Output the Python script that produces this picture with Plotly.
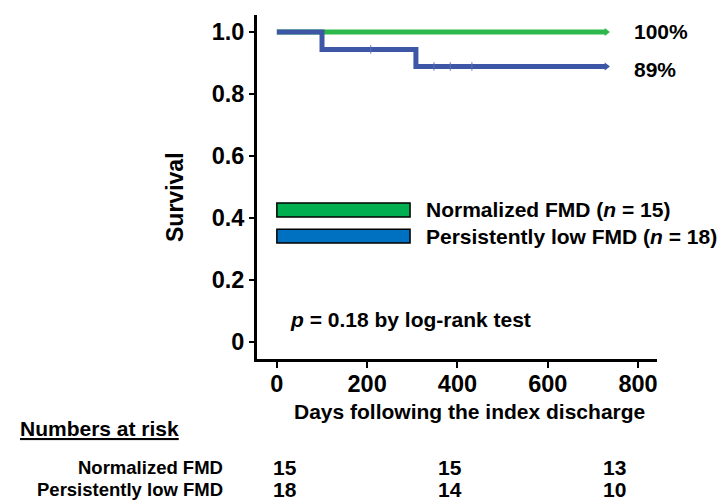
import plotly.graph_objects as go

# ---- data ----
groups = ["Normalized FMD", "Persistently low FMD"]
group_n = [15, 18]
green_days = [0, 730]
green_surv = [1.0, 1.0]
blue_days = [0, 100, 308, 730]
blue_surv = [1.0, 0.944, 0.889, 0.889]
blue_censor_days = [208, 348, 384, 432]
blue_censor_surv = [0.944, 0.889, 0.889, 0.889]
final_labels = ["100%", "89%"]
risk_days = [0, 365, 730]
risk_normalized = [15, 15, 13]
risk_low = [18, 14, 10]
x_ticks = [0, 200, 400, 600, 800]
y_ticks = [0, 0.2, 0.4, 0.6, 0.8, 1.0]
y_ticklabels = ["0", "0.2", "0.4", "0.6", "0.8", "1.0"]

GREEN_LINE = "#2db84b"
BLUE_LINE = "#3d56a6"
GREEN_FILL = "#00b050"
BLUE_FILL = "#0070c0"
FONT = "Liberation Sans, Arial, sans-serif"

fig = go.Figure()

fig.add_trace(go.Scatter(
    x=green_days, y=green_surv, mode="lines", line=dict(color=GREEN_LINE, width=5),
    line_shape="hv", showlegend=False, hoverinfo="skip"))
fig.add_trace(go.Scatter(
    x=blue_days, y=blue_surv, mode="lines", line=dict(color=BLUE_LINE, width=5),
    line_shape="hv", showlegend=False, hoverinfo="skip"))
# censor marks
fig.add_trace(go.Scatter(
    x=blue_censor_days, y=blue_censor_surv, mode="markers",
    marker=dict(symbol="line-ns", size=6, line=dict(color="#5a6fb5", width=1)),
    showlegend=False, hoverinfo="skip"))
# arrow ends
fig.add_trace(go.Scatter(
    x=[green_days[-1], blue_days[-1]], y=[green_surv[-1], blue_surv[-1]], mode="markers",
    marker=dict(symbol="triangle-right", size=7, color=[GREEN_LINE, BLUE_LINE]),
    showlegend=False, hoverinfo="skip"))

# legend boxes
fig.add_shape(type="rect", xref="x", yref="y", x0=0, x1=295, y0=0.403, y1=0.448,
              fillcolor=GREEN_FILL, line=dict(color="black", width=1.5))
fig.add_shape(type="rect", xref="x", yref="y", x0=0, x1=295, y0=0.319, y1=0.364,
              fillcolor=BLUE_FILL, line=dict(color="black", width=1.5))

ann = []
ann.append(dict(x=326, y=0.426, xref="x", yref="y", xanchor="left", yanchor="middle",
                text=f"<b>{groups[0]} (<i>n</i> = {group_n[0]})</b>", showarrow=False,
                font=dict(size=21, color="black", family=FONT)))
ann.append(dict(x=326, y=0.340, xref="x", yref="y", xanchor="left", yanchor="middle",
                text=f"<b>{groups[1]} (<i>n</i> = {group_n[1]})</b>", showarrow=False,
                font=dict(size=21, color="black", family=FONT)))
ann.append(dict(x=24, y=0.071, xref="x", yref="y", xanchor="left", yanchor="middle",
                text="<b><i>p</i> = 0.18 by log-rank test</b>", showarrow=False,
                font=dict(size=21, color="black", family=FONT)))
ann.append(dict(x=787, y=green_surv[-1] + 0.003, xref="x", yref="y", xanchor="left", yanchor="middle",
                text=f"<b>{final_labels[0]}</b>", showarrow=False,
                font=dict(size=21, color="black", family=FONT)))
ann.append(dict(x=787, y=blue_surv[-1] - 0.009, xref="x", yref="y", xanchor="left", yanchor="middle",
                text=f"<b>{final_labels[1]}</b>", showarrow=False,
                font=dict(size=21, color="black", family=FONT)))
# axis titles
ann.append(dict(x=-0.205, y=0.471, xref="paper", yref="paper", xanchor="center", yanchor="middle",
                text="<b>Survival</b>", textangle=-90, showarrow=False,
                font=dict(size=23, color="black", family=FONT)))
ann.append(dict(x=0.53, y=-0.154, xref="paper", yref="paper", xanchor="center", yanchor="middle",
                text="<b>Days following the index discharge</b>", showarrow=False,
                font=dict(size=21, color="black", family=FONT)))
# numbers at risk
ann.append(dict(x=-0.5975, y=-0.2006, xref="paper", yref="paper", xanchor="left", yanchor="middle",
                text="<b><u>Numbers at risk</u></b>", showarrow=False,
                font=dict(size=21, color="black", family=FONT)))
row_y = [-0.314, -0.378]
for name, yy, vals in zip(groups, row_y, [risk_normalized, risk_low]):
    ann.append(dict(x=-0.08, y=yy, xref="paper", yref="paper", xanchor="right", yanchor="middle",
                    text=f"<b>{name}</b>", showarrow=False,
                    font=dict(size=18.5, color="black", family=FONT)))
    for d, v in zip(risk_days, vals):
        ann.append(dict(x=d, y=yy, xref="x", yref="paper", xanchor="center", yanchor="middle",
                        xshift=8, text=f"<b>{v}</b>", showarrow=False,
                        font=dict(size=21, color="black", family=FONT)))

fig.update_layout(
    width=718, height=500,
    margin=dict(l=257, r=61, t=15, b=141, autoexpand=False),
    plot_bgcolor="white", paper_bgcolor="white",
    annotations=ann,
    font=dict(family=FONT, color="black"),
)
fig.update_xaxes(
    range=[-44, 842], showgrid=False, zeroline=False, showline=True, linecolor="black", linewidth=3,
    ticks="outside", ticklen=6, tickwidth=2, tickcolor="black",
    tickvals=x_ticks, ticktext=[f"<b>{t}</b>" for t in x_ticks],
    ticklabelstandoff=-4,
    tickfont=dict(size=23.5, color="black", family=FONT), automargin=False)
fig.update_yaxes(
    range=[-0.055, 1.055], showgrid=False, zeroline=False, showline=True, linecolor="black", linewidth=3,
    ticks="outside", ticklen=5, tickwidth=2, tickcolor="black",
    tickvals=y_ticks, ticktext=[f"<b>{t}</b>" for t in y_ticklabels],
    tickfont=dict(size=23.5, color="black", family=FONT), automargin=False)

fig.write_html("out.html")
